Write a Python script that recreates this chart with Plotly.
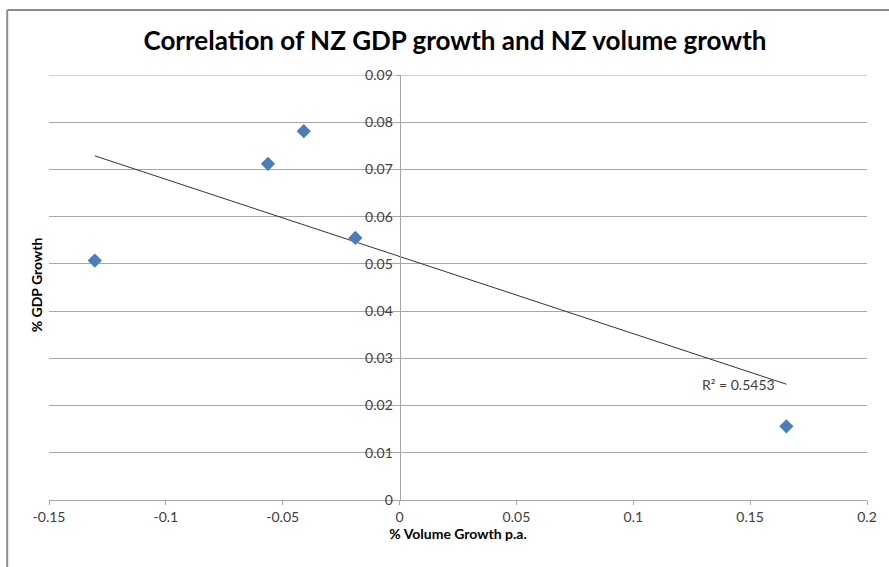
import numpy as np
import plotly.graph_objects as go

# Annual volume growth vs GDP growth (NZ)
volume_growth = [-0.1304, -0.0563, -0.0410, -0.0189, 0.1655]
gdp_growth = [0.0507, 0.0712, 0.0781, 0.0555, 0.0156]

x_ticks = [-0.15, -0.1, -0.05, 0, 0.05, 0.1, 0.15, 0.2]
x_tick_text = ["-0.15", "-0.1", "-0.05", "0", "0.05", "0.1", "0.15", "0.2"]
y_ticks = [0, 0.01, 0.02, 0.03, 0.04, 0.05, 0.06, 0.07, 0.08, 0.09]
y_tick_text = ["0", "0.01", "0.02", "0.03", "0.04", "0.05", "0.06", "0.07", "0.08", "0.09"]

r2_label = "R² = 0.5453"

x_range = [-0.15, 0.2]
y_range = [0, 0.09]

# Least-squares linear trendline
slope, intercept = np.polyfit(volume_growth, gdp_growth, 1)
trend_x = [min(volume_growth), max(volume_growth)]
trend_y = [slope * v + intercept for v in trend_x]

FONT = "Lato"
TEXT = "#404040"
GRID = "#a6a6a6"

fig = go.Figure()
fig.add_trace(go.Scatter(
    x=trend_x, y=trend_y, mode="lines",
    line=dict(color="#333333", width=1), hoverinfo="skip", showlegend=False,
))
fig.add_trace(go.Scatter(
    x=volume_growth, y=gdp_growth, mode="markers",
    marker=dict(symbol="diamond", size=11, color="#4a7ebb"),
    showlegend=False,
))

y_axis_pos = (0 - x_range[0]) / (x_range[1] - x_range[0])

fig.update_layout(
    width=889, height=567,
    margin=dict(l=49, r=18, t=75, b=67),
    paper_bgcolor="white", plot_bgcolor="white",
    font=dict(family=FONT, size=14, color=TEXT),
    title=dict(
        text="<b>Correlation of NZ GDP growth and NZ volume growth</b>",
        x=455 / 889, xanchor="center", y=1 - 41 / 567, yanchor="middle",
        font=dict(family=FONT, size=26, color="black"),
    ),
    xaxis=dict(
        range=x_range, tickvals=x_ticks, ticktext=x_tick_text,
        showgrid=False, zeroline=False,
        showline=True, linecolor=GRID, linewidth=1,
        ticks="outside", ticklen=4, tickcolor=GRID,
        tickfont=dict(family=FONT, size=14, color=TEXT),
        title=dict(text="<b>% Volume Growth p.a.</b>", standoff=5,
                   font=dict(family=FONT, size=14, color="black")),
        fixedrange=True,
    ),
    yaxis=dict(
        range=y_range, tickvals=y_ticks, ticktext=y_tick_text,
        anchor="free", position=y_axis_pos,
        showgrid=True, gridcolor=GRID, gridwidth=1, zeroline=False,
        showline=True, linecolor=GRID, linewidth=1,
        ticks="outside", ticklen=4, tickcolor=GRID,
        tickfont=dict(family=FONT, size=14, color=TEXT),
        fixedrange=True,
    ),
    annotations=[
        dict(text="<b>% GDP Growth</b>", xref="paper", yref="paper",
             x=-0.027, y=0.506, textangle=-90, showarrow=False,
             font=dict(family=FONT, size=14, color="black")),
        dict(text=r2_label, xref="x", yref="y",
             x=trend_x[1] - 0.0205, y=trend_y[1] - 0.0001, showarrow=False,
             font=dict(family=FONT, size=14, color=TEXT)),
    ],
    shapes=[
        # top gridline at the upper end of the value axis
        dict(type="line", xref="paper", yref="y",
             x0=0, x1=1, y0=y_range[1], y1=y_range[1],
             line=dict(color=GRID, width=1), layer="below"),
        # chart frame (top and left edges)
        dict(type="line", xref="paper", yref="paper",
             x0=-0.0511, x1=1.03, y0=1.1528, y1=1.1528,
             line=dict(color="#8c8c8c", width=2)),
        dict(type="line", xref="paper", yref="paper",
             x0=-0.0511, x1=-0.0511, y0=-0.2, y1=1.1528,
             line=dict(color="#8c8c8c", width=2)),
    ],
)

fig.write_html("out.html")
